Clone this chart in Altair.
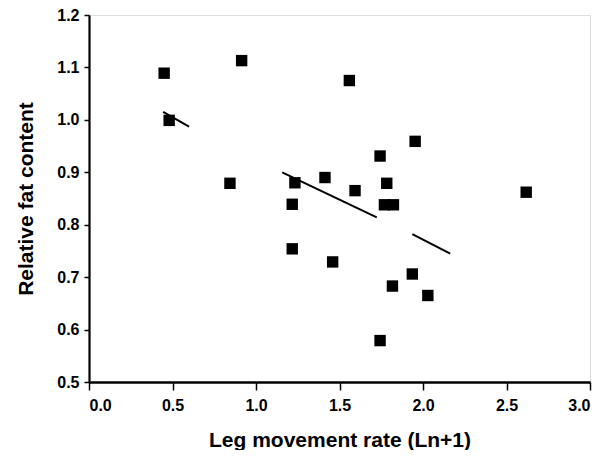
import altair as alt
import pandas as pd

# Scatter data
leg_rate = [0.450, 0.914, 0.480, 0.844, 1.233, 1.413, 1.217, 1.559, 1.953, 1.743,
            1.783, 1.593, 1.769, 1.823, 2.618, 1.217, 1.459, 1.936, 1.817, 2.029, 1.743]
fat = [1.089, 1.113, 0.999, 0.879, 0.880, 0.890, 0.839, 1.075, 0.959, 0.931,
       0.879, 0.865, 0.838, 0.838, 0.862, 0.754, 0.729, 0.706, 0.683, 0.665, 0.579]

# Regression line, drawn in broken pieces as in the scan
seg_x1 = [0.444, 1.157, 1.936]
seg_y1 = [1.015, 0.900, 0.782]
seg_x2 = [0.599, 1.723, 2.163]
seg_y2 = [0.987, 0.814, 0.745]

x_ticks = [0.0, 0.5, 1.0, 1.5, 2.0, 2.5, 3.0]
y_ticks = [0.5, 0.6, 0.7, 0.8, 0.9, 1.0, 1.1, 1.2]

pts = pd.DataFrame({"x": leg_rate, "y": fat})
segs = pd.DataFrame({"x": seg_x1, "y": seg_y1, "x2": seg_x2, "y2": seg_y2})

FONT = "Liberation Sans"

xscale = alt.Scale(domain=[0, 3], nice=False, zero=False)
yscale = alt.Scale(domain=[0.5, 1.2], nice=False, zero=False)

xaxis = alt.Axis(
    values=x_ticks, format=".1f", title="Leg movement rate (Ln+1)",
    grid=False, domainColor="black", domainWidth=2.5, tickColor="black",
    tickWidth=1.5, tickSize=8, labelFont=FONT, labelFontSize=16,
    labelFontWeight="bold", labelColor="black", labelPadding=7,
    titleFont=FONT, titleFontSize=21, titleFontWeight="bold", titleColor="black",
    titleBaseline="alphabetic", titleY=64,
)
yaxis = alt.Axis(
    values=y_ticks, format=".1f", title="Relative fat content",
    grid=False, domainColor="black", domainWidth=2.2, tickColor="black",
    tickWidth=1.5, tickSize=5, labelFont=FONT, labelFontSize=16,
    labelFontWeight="bold", labelColor="black", labelPadding=5,
    titleFont=FONT, titleFontSize=21, titleFontWeight="bold", titleColor="black",
    titleBaseline="alphabetic", titleX=-57,
)

points = alt.Chart(pts).mark_point(
    shape="square", filled=True, color="black", size=130, opacity=1
).encode(
    x=alt.X("x:Q", scale=xscale, axis=xaxis),
    y=alt.Y("y:Q", scale=yscale, axis=yaxis),
)

lines = alt.Chart(segs).mark_rule(color="black", strokeWidth=2).encode(
    x=alt.X("x:Q", scale=xscale),
    y=alt.Y("y:Q", scale=yscale),
    x2="x2:Q",
    y2="y2:Q",
)

chart = (lines + points).properties(
    width=501, height=367,
    autosize=alt.AutoSizeParams(type="none"),
    padding={"left": 81, "top": 7, "right": 5, "bottom": 68},
).configure_view(stroke=None).configure(background="white")

chart.save("out.html", embed_options={"renderer": "svg", "actions": False})
